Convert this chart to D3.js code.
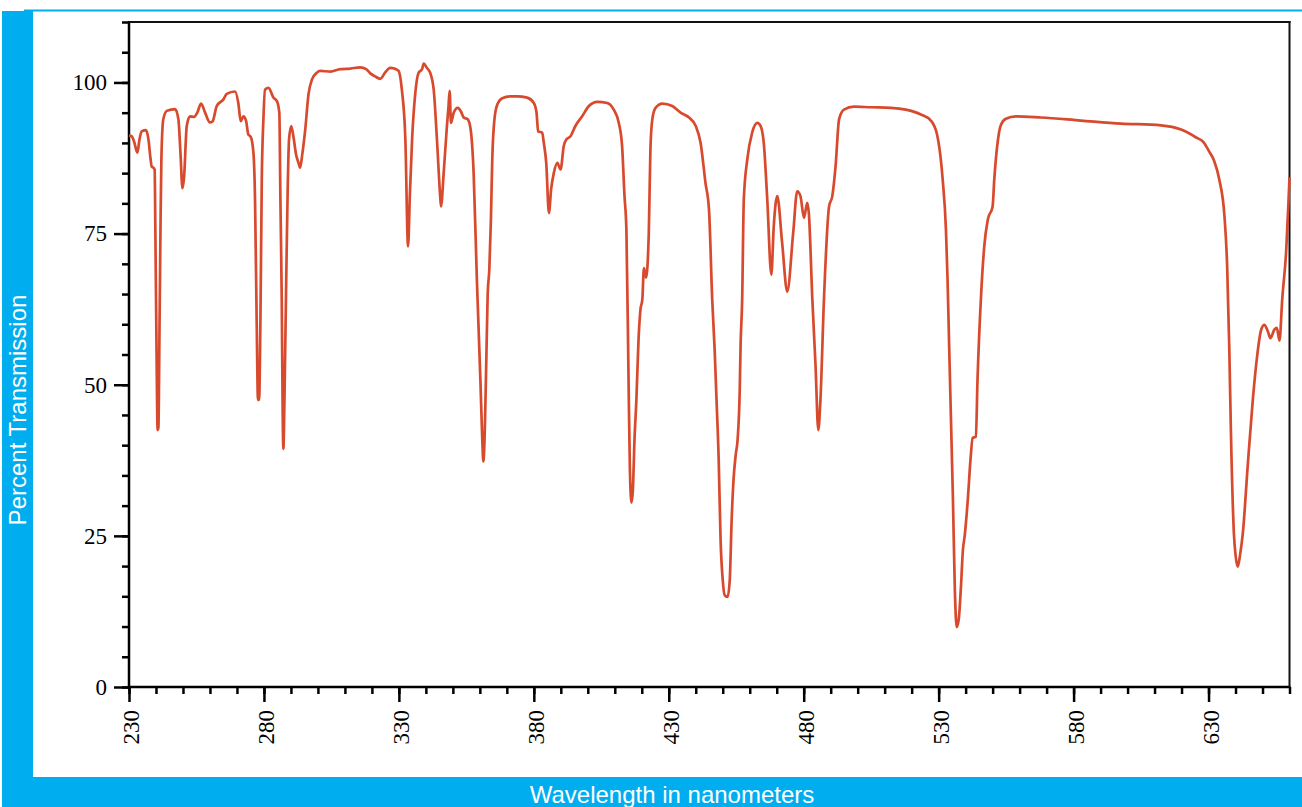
<!DOCTYPE html>
<html>
<head>
<meta charset="utf-8">
<script src="https://cdn.jsdelivr.net/npm/d3@7"></script>
<style>
  html, body { margin: 0; padding: 0; background: #fff; }
  svg { display: block; }
</style>
</head>
<body>
<svg id="chart" width="1302" height="807"></svg>
<script>
// Transmission spectrum: wavelength (nm) and percent transmission
const wavelength = [
  230.0, 231.0, 231.9, 233.1, 233.9, 234.7, 236.3, 237.2, 238.0, 238.4,
  239.0, 239.5, 239.8, 240.2, 240.6, 240.9, 241.3, 241.7, 242.0, 242.7,
  244.0, 247.1, 248.3, 249.1, 249.8, 250.4, 251.4, 252.6, 254.1, 255.3,
  256.7, 258.2, 260.0, 261.0, 262.5, 265.0, 266.2, 269.3, 270.5, 271.4,
  272.4, 273.4, 274.2, 275.1, 276.1, 276.7, 277.3, 277.8, 278.2, 278.7,
  279.2, 279.8, 280.4, 281.7, 283.5, 284.8, 285.7, 286.1, 286.6, 286.9,
  287.2, 287.6, 288.2, 288.8, 289.3, 290.1, 290.9, 291.9, 292.8, 293.4,
  294.2, 295.3, 296.5, 297.8, 299.6, 300.8, 304.6, 308.3, 312.0, 315.7,
  317.9, 319.4, 321.2, 323.1, 325.0, 326.8, 328.3, 329.9, 331.1, 332.4,
  333.4, 334.1, 334.9, 336.1, 337.3, 338.6, 339.2, 340.4, 341.6, 342.9,
  344.1, 345.3, 345.6, 346.6, 347.8, 348.4, 348.8, 349.3, 350.3, 351.8,
  353.0, 354.0, 355.5, 356.5, 357.7, 358.9, 360.2, 360.9, 361.3, 361.6,
  362.4, 362.9, 363.5, 364.1, 364.6, 365.4, 366.5, 368.3, 371.3, 373.8,
  377.5, 380.0, 381.0, 381.6, 383.1, 383.7, 384.6, 385.6, 386.4, 387.4,
  388.7, 389.9, 391.1, 392.1, 393.6, 395.4, 397.9, 400.4, 403.5, 407.2,
  409.6, 411.5, 412.7, 413.6, 414.3, 415.1, 415.6, 416.2, 416.7, 417.3,
  418.0, 418.8, 419.5, 420.2, 420.8, 421.6, 422.6, 423.2, 423.9, 425.1,
  427.6, 431.3, 434.4, 437.5, 440.0, 441.8, 443.6, 444.9, 446.1, 447.0,
  447.7, 448.5, 449.2, 450.0, 450.7, 451.8, 452.6, 453.3, 454.0, 454.8,
  455.5, 456.3, 456.6, 457.2, 457.8, 459.1, 460.9, 462.8, 464.0, 465.2,
  466.5, 468.0, 468.9, 470.2, 472.0, 473.9, 476.1, 477.6, 478.8, 480.1,
  481.3, 481.9, 483.2, 484.4, 485.4, 486.2, 487.5, 489.4, 490.6, 491.8,
  493.1, 494.9, 498.6, 504.8, 512.3, 517.8, 523.4, 527.1, 529.4, 531.5,
  532.7, 533.3, 533.9, 534.5, 535.3, 536.0, 536.7, 537.5, 538.2, 539.0,
  539.7, 540.8, 541.8, 542.6, 543.8, 544.4, 545.7, 546.9, 548.2, 550.0,
  550.6, 551.2, 552.0, 553.1, 554.9, 558.6, 567.9, 582.7, 597.6, 612.4,
  619.8, 625.4, 628.2, 630.2, 632.1, 634.0, 635.9, 636.9, 637.7, 638.3,
  639.4, 640.0, 640.8, 641.7, 642.7, 644.5, 646.4, 648.0, 649.5, 650.7,
  652.0, 652.9, 654.4, 655.3, 656.3, 657.3, 658.8, 659.6, 660.0
];
const transmission = [
  91.2, 91.1, 90.2, 88.4, 90.6, 91.9, 92.1, 90.6, 87.3, 86.1,
  85.9, 85.6, 74.0, 55.8, 42.5, 42.9, 59.1, 77.3, 87.3, 93.9,
  95.3, 95.6, 93.9, 88.1, 82.5, 84.3, 92.8, 94.4, 94.3, 95.0,
  96.5, 95.0, 93.4, 93.6, 96.1, 97.2, 98.1, 98.5, 96.6, 93.6,
  94.4, 93.6, 91.4, 91.0, 88.4, 80.6, 60.8, 47.5, 47.5, 60.8,
  83.9, 93.9, 98.8, 99.1, 97.5, 96.9, 95.0, 80.6, 64.1, 47.5,
  39.4, 47.5, 65.7, 82.3, 90.6, 92.8, 91.1, 88.1, 86.7, 85.9,
  88.1, 92.2, 98.0, 100.5, 101.6, 101.9, 101.8, 102.2, 102.3, 102.5,
  102.2, 101.5, 101.0, 100.6, 101.7, 102.4, 102.3, 101.9, 98.8, 90.6,
  72.9, 81.8, 90.6, 98.3, 101.6, 102.2, 103.1, 102.4, 101.6, 98.8,
  90.6, 81.2, 79.5, 85.0, 92.8, 96.1, 98.6, 93.3, 95.0, 95.8,
  95.2, 94.2, 93.9, 92.5, 85.0, 67.4, 50.8, 40.9, 37.3, 39.2,
  54.1, 64.9, 69.0, 77.3, 87.3, 93.9, 96.4, 97.4, 97.7, 97.7,
  97.5, 96.6, 95.0, 91.9, 91.7, 90.0, 86.7, 78.4, 82.3, 85.0,
  86.7, 85.6, 89.5, 90.6, 91.1, 92.8, 94.4, 96.1, 96.8, 96.6,
  95.5, 93.3, 89.5, 81.2, 75.7, 50.8, 35.9, 30.5, 32.6, 40.9,
  47.5, 57.5, 62.4, 64.1, 69.3, 67.7, 75.1, 88.9, 93.9, 95.8,
  96.5, 96.1, 95.0, 94.2, 92.8, 90.0, 83.4, 79.0, 64.1, 55.8,
  47.5, 37.6, 24.3, 17.7, 15.2, 14.9, 17.7, 27.6, 34.3, 38.4,
  40.9, 49.2, 56.3, 64.1, 80.6, 87.3, 91.7, 93.3, 92.8, 90.0,
  80.6, 68.2, 76.2, 81.2, 73.5, 65.4, 75.1, 82.0, 81.2, 77.6,
  80.1, 78.4, 64.1, 53.0, 42.5, 47.5, 64.1, 79.5, 81.2, 86.1,
  93.9, 95.5, 96.0, 95.9, 95.8, 95.5, 94.7, 93.7, 91.4, 83.9,
  75.7, 67.4, 56.3, 45.4, 31.0, 16.1, 9.9, 11.4, 16.1, 22.7,
  25.2, 31.0, 37.6, 41.2, 41.4, 50.8, 64.6, 72.9, 77.3, 79.5,
  83.9, 87.3, 90.6, 93.0, 94.0, 94.4, 94.2, 93.7, 93.2, 92.9,
  92.2, 90.9, 90.1, 88.6, 87.0, 83.9, 77.9, 69.6, 55.8, 42.1,
  25.4, 21.9, 19.9, 21.9, 25.4, 36.5, 47.5, 54.7, 59.1, 59.9,
  58.8, 57.7, 59.1, 59.4, 57.3, 64.1, 72.4, 80.0, 84.3
];

const xMajorTicks = d3.range(230, 661, 50);
const xMinorTicks = d3.range(230, 661, 10);
const yMajorTicks = [0, 25, 50, 75, 100];
const yMinorTicks = d3.range(0, 111, 5);
const xTitle = "Wavelength in nanometers";
const yTitle = "Percent Transmission";

const svg = d3.select("#chart");
const W = 1302, H = 807;
const blue = "#00adef";
const plot = { left: 129, right: 1289.5, top: 22, bottom: 687 };

// blue frame around the chart
svg.append("rect").attr("x", 24).attr("y", 9.5).attr("width", W - 24).attr("height", 2).attr("fill", blue);
svg.append("rect").attr("x", 2).attr("y", 11).attr("width", 31).attr("height", H - 11).attr("fill", blue);
svg.append("rect").attr("x", 2).attr("y", 777).attr("width", W - 2).attr("height", H - 777).attr("fill", blue);

const x = d3.scaleLinear().domain([230, 660]).range([plot.left, plot.right]);
const y = d3.scaleLinear().domain([0, 110]).range([plot.bottom, plot.top]);

const tickFont = "'Liberation Serif', 'Times New Roman', serif";

// left axis: minor ticks, then labelled major ticks
const yMinor = svg.append("g").attr("transform", `translate(${plot.left},0)`)
  .call(d3.axisLeft(y).tickValues(yMinorTicks).tickSize(7).tickFormat(""));
const yMajor = svg.append("g").attr("transform", `translate(${plot.left},0)`)
  .call(d3.axisLeft(y).tickValues(yMajorTicks).tickSize(15).tickPadding(7).tickFormat(d3.format("d")));

// bottom axis
const xMinor = svg.append("g").attr("transform", `translate(0,${plot.bottom})`)
  .call(d3.axisBottom(x).tickValues(xMinorTicks).tickSize(7).tickFormat(""));
const xMajor = svg.append("g").attr("transform", `translate(0,${plot.bottom})`)
  .call(d3.axisBottom(x).tickValues(xMajorTicks).tickSize(15).tickFormat(d3.format("d")));

[yMinor, yMajor, xMinor, xMajor].forEach(g => {
  g.selectAll(".domain").remove();
  g.selectAll(".tick line").attr("stroke", "#000").attr("stroke-width", 2.5);
});
yMajor.selectAll(".tick text")
  .attr("font-family", tickFont).attr("font-size", 23).attr("fill", "#000");
xMajor.selectAll(".tick text")
  .attr("font-family", tickFont).attr("font-size", 23).attr("fill", "#000")
  .attr("text-anchor", "end")
  .attr("transform", "rotate(-90)")
  .attr("x", -23).attr("y", 0).attr("dy", "0.42em");

// plot frame
svg.append("line").attr("x1", plot.left).attr("x2", plot.left)
  .attr("y1", plot.top - 1).attr("y2", plot.bottom + 1.25)
  .attr("stroke", "#000").attr("stroke-width", 2.5);
svg.append("line").attr("x1", plot.left - 1.25).attr("x2", plot.right + 1)
  .attr("y1", plot.bottom).attr("y2", plot.bottom)
  .attr("stroke", "#000").attr("stroke-width", 2.5);
svg.append("line").attr("x1", plot.left).attr("x2", plot.right + 1)
  .attr("y1", plot.top).attr("y2", plot.top)
  .attr("stroke", "#111").attr("stroke-width", 2);
svg.append("line").attr("x1", plot.right).attr("x2", plot.right)
  .attr("y1", plot.top - 1).attr("y2", plot.bottom)
  .attr("stroke", "#111").attr("stroke-width", 2);

// spectrum line
const pts = wavelength.map((w, i) => [w, transmission[i]]);
svg.append("path")
  .datum(pts)
  .attr("fill", "none")
  .attr("stroke", "#d84a2e")
  .attr("stroke-width", 2.7)
  .attr("stroke-linejoin", "round")
  .attr("d", d3.line().x(d => x(d[0])).y(d => y(d[1])).curve(d3.curveMonotoneX));

// axis titles on the blue frame
const titleFont = "'Liberation Sans', Arial, Helvetica, sans-serif";
svg.append("text")
  .attr("transform", "translate(26,410) rotate(-90)")
  .attr("text-anchor", "middle")
  .attr("font-family", titleFont).attr("font-size", 24).attr("fill", "#fff")
  .text(yTitle);
svg.append("text")
  .attr("x", 672).attr("y", 803)
  .attr("text-anchor", "middle")
  .attr("font-family", titleFont).attr("font-size", 24).attr("fill", "#fff")
  .text(xTitle);
</script>
</body>
</html>
